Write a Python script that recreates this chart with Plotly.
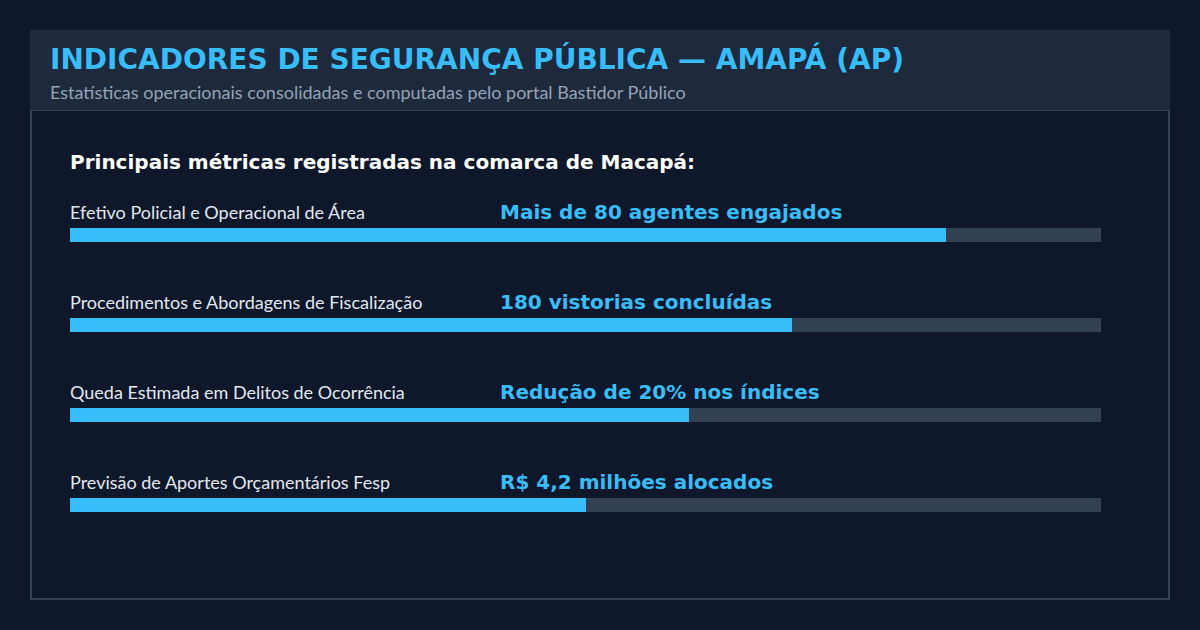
import plotly.graph_objects as go

# ---- data ----
metric_labels = [
    "Efetivo Policial e Operacional de Área",
    "Procedimentos e Abordagens de Fiscalização",
    "Queda Estimada em Delitos de Ocorrência",
    "Previsão de Aportes Orçamentários Fesp",
]
value_texts = [
    "Mais de 80 agentes engajados",
    "180 vistorias concluídas",
    "Redução de 20% nos índices",
    "R$ 4,2 milhões alocados",
]
fill_pct = [85, 70, 60, 50]
track_max = [100, 100, 100, 100]

title = "INDICADORES DE SEGURANÇA PÚBLICA — AMAPÁ (AP)"
subtitle = "Estatísticas operacionais consolidadas e computadas pelo portal Bastidor Público"
heading = "Principais métricas registradas na comarca de Macapá:"

# ---- layout geometry (pixels) ----
W, H = 1200, 630
L, R, T, B = 70, 99, 190, 80
PW, PH = W - L - R, H - T - B

def px(x):
    return (x - L) / PW

def py(y):
    return (H - B - y) / PH

BG = "#0f172a"
PANEL = "#1e293b"
TRACK = "#334155"
ACCENT = "#38bdf8"

cats = list(range(len(metric_labels)))

fig = go.Figure()
fig.add_trace(go.Bar(
    y=cats, x=track_max, orientation="h", marker=dict(color=TRACK, line=dict(width=0)),
    width=14 / 90, hoverinfo="skip", showlegend=False,
))
fig.add_trace(go.Bar(
    y=cats, x=fill_pct, orientation="h", marker=dict(color=ACCENT, line=dict(width=0)),
    width=14 / 90, hoverinfo="skip", showlegend=False,
))

shapes = [
    dict(type="rect", xref="paper", yref="paper", layer="below",
         x0=px(31), x1=px(1169), y0=py(110), y1=py(599),
         line=dict(color=TRACK, width=2), fillcolor="rgba(0,0,0,0)"),
    dict(type="rect", xref="paper", yref="paper", layer="below",
         x0=px(30), x1=px(1170), y0=py(30), y1=py(110),
         line=dict(width=0), fillcolor=PANEL),
]

XS = -2
annotations = [
    dict(text=f"<b>{title}</b>", xref="paper", yref="paper", x=px(50), y=py(59),
         xanchor="left", yanchor="middle", showarrow=False, xshift=XS,
         font=dict(family="DejaVu Sans", size=28, color=ACCENT)),
    dict(text=subtitle, xref="paper", yref="paper", x=px(50), y=py(91.5),
         xanchor="left", yanchor="middle", showarrow=False, xshift=XS,
         font=dict(family="Lato", size=18, color="#94a3b8")),
    dict(text=f"<b>{heading}</b>", xref="paper", yref="paper", x=px(70), y=py(162),
         xanchor="left", yanchor="middle", showarrow=False, xshift=XS,
         font=dict(family="DejaVu Sans", size=20, color="#ffffff")),
]
for i, (lab, val) in enumerate(zip(metric_labels, value_texts)):
    annotations.append(dict(text=lab, xref="paper", yref="y", x=0, y=cats[i],
                            xanchor="left", yanchor="middle", yshift=23.5, xshift=XS,
                            showarrow=False,
                            font=dict(family="Lato", size=18, color="#e2e8f0")))
    annotations.append(dict(text=f"<b>{val}</b>", xref="paper", yref="y", x=px(500), y=cats[i],
                            xanchor="left", yanchor="middle", yshift=23, xshift=XS,
                            showarrow=False,
                            font=dict(family="DejaVu Sans", size=20, color=ACCENT)))

fig.update_layout(
    width=W, height=H, margin=dict(l=L, r=R, t=T, b=B),
    paper_bgcolor=BG, plot_bgcolor=BG,
    barmode="overlay", bargap=0,
    xaxis=dict(range=[0, 100], visible=False, fixedrange=True),
    yaxis=dict(range=[len(cats) - 0.5, -0.5], visible=False, fixedrange=True),
    shapes=shapes, annotations=annotations, showlegend=False,
)

fig.write_html("out.html", config={"displayModeBar": False})
